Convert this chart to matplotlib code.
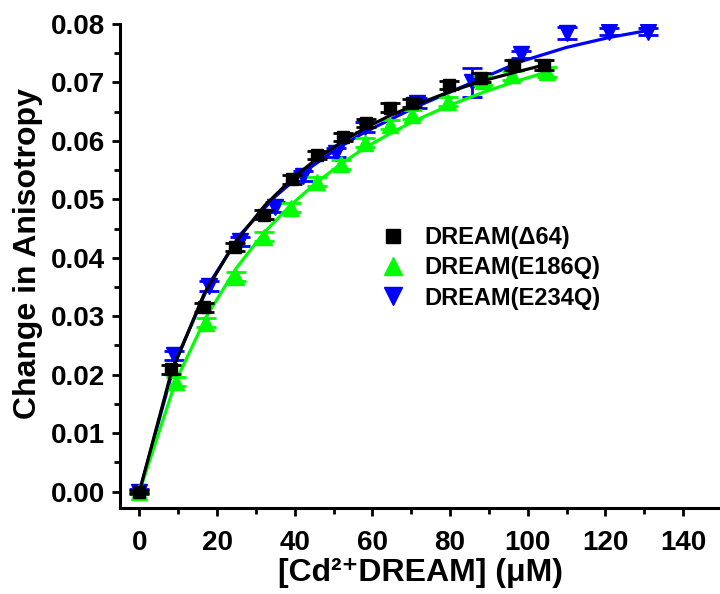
import numpy as np
import matplotlib
matplotlib.use('Agg')
import matplotlib.pyplot as plt
from matplotlib.ticker import MultipleLocator
from matplotlib.lines import Line2D

plt.rcParams['font.family'] = ['Liberation Sans', 'DejaVu Sans']
plt.rcParams['font.weight'] = 'bold'

# DREAM(delta64) - black squares
x_d64 = [0, 8.2, 16.7, 24.5, 32.2, 39.4, 45.8, 52.3, 58.4, 64.4, 70.1, 79.8, 88.0, 96.5, 104.3]
y_d64 = [0, 0.0209, 0.0315, 0.0419, 0.0474, 0.0534, 0.0576, 0.0606, 0.0631,
         0.0657, 0.0665, 0.0696, 0.0708, 0.0730, 0.0730]
e_d64 = [0.0003, 0.0007, 0.0007, 0.0007, 0.0007, 0.0007, 0.0007, 0.0007, 0.0007,
         0.0007, 0.0007, 0.0007, 0.0008, 0.0008, 0.0008]
f_d64 = [0, 0.0204, 0.0339, 0.0425, 0.0489, 0.0536, 0.0570, 0.0599, 0.0623,
         0.0643, 0.0659, 0.0684, 0.0702, 0.0717, 0.0730]

# DREAM(E186Q) - green triangles
x_e186 = [0, 9.3, 17.2, 24.9, 32.2, 39.1, 45.8, 52.0, 58.0, 64.4, 70.1, 79.5, 88.5, 96.0, 105.0]
y_e186 = [0, 0.0188, 0.0289, 0.0368, 0.0436, 0.0486, 0.0530, 0.0560, 0.0597,
          0.0628, 0.0645, 0.0667, 0.0703, 0.0712, 0.0718]
e_e186 = [0.0003, 0.0008, 0.0008, 0.0008, 0.0008, 0.0008, 0.0008, 0.0008, 0.0008,
          0.0008, 0.0008, 0.0008, 0.0008, 0.0008, 0.0008]
f_e186 = [0, 0.0188, 0.0299, 0.0382, 0.0444, 0.0491, 0.0530, 0.0561, 0.0588,
          0.0612, 0.0632, 0.0660, 0.0683, 0.0700, 0.0718]

# DREAM(E234Q) - blue inverted triangles
x_e234 = [0, 9.0, 18.0, 26.0, 35.0, 42.0, 50.7, 58.0, 71.5, 85.7, 98.3, 110.0, 121.0, 131.0]
y_e234 = [0, 0.0233, 0.0352, 0.0428, 0.0487, 0.0540, 0.0580, 0.0624, 0.0665,
          0.0700, 0.0748, 0.0785, 0.0787, 0.0787]
e_e234 = [0.0004, 0.0008, 0.0008, 0.0008, 0.0008, 0.0008, 0.0008, 0.0008, 0.0008,
          0.0025, 0.0006, 0.0010, 0.0006, 0.0006]
f_e234 = [0, 0.0218, 0.0356, 0.0440, 0.0505, 0.0545, 0.0586, 0.0615, 0.0659,
          0.0700, 0.0736, 0.0760, 0.0777, 0.0789]

labels = ['DREAM(\u039464)', 'DREAM(E186Q)', 'DREAM(E234Q)']

fig = plt.figure(figsize=(7.2, 5.94), dpi=100)
ax = fig.add_axes([0.1667, 0.1448, 0.8333, 0.8148])

lw = 2.3
# blue
ax.plot(x_e234, f_e234, color='#0000ff', lw=lw, zorder=2)
ax.errorbar(x_e234, y_e234, yerr=e_e234, fmt='v', color='#0000ff', ms=12,
            capsize=7, capthick=2, elinewidth=2, zorder=3)
# green
ax.plot(x_e186, f_e186, color='#00ff00', lw=lw, zorder=4)
ax.errorbar(x_e186, y_e186, yerr=e_e186, fmt='^', color='#00ff00', ms=12,
            capsize=7, capthick=2, elinewidth=2, zorder=5)
# black
ax.plot(x_d64, f_d64, color='black', lw=lw, zorder=6)
ax.errorbar(x_d64, y_d64, yerr=e_d64, fmt='s', color='black', ms=9,
            capsize=7, capthick=2, elinewidth=2, zorder=7)

ax.set_xlim(-5, 149.5)
ax.set_ylim(-0.0028, 0.08)
ax.xaxis.set_major_locator(MultipleLocator(20))
ax.xaxis.set_minor_locator(MultipleLocator(10))
ax.yaxis.set_major_locator(MultipleLocator(0.01))
ax.yaxis.set_minor_locator(MultipleLocator(0.005))
ax.yaxis.set_major_formatter(plt.FormatStrFormatter('%.2f'))

for s in ['top', 'right']:
    ax.spines[s].set_visible(False)
for s in ['left', 'bottom']:
    ax.spines[s].set_linewidth(2.2)
ax.tick_params(which='major', direction='out', length=6, width=2, labelsize=20)
ax.tick_params(which='minor', direction='out', length=4, width=2)
ax.tick_params(axis='y', pad=5)
ax.tick_params(axis='x', pad=10)

ax.set_xlabel('[Cd\u00b2\u207aDREAM] (\u03bcM)', fontsize=23, fontweight='bold', labelpad=1)
ax.set_ylabel('Change in Anisotropy', fontsize=23, fontweight='bold')
ax.yaxis.set_label_coords(-0.128, 0.525)

handles = [Line2D([], [], marker='s', color='black', ls='none', ms=10),
           Line2D([], [], marker='^', color='#00ff00', ls='none', ms=13),
           Line2D([], [], marker='v', color='#0000ff', ls='none', ms=13)]
ax.legend(handles, labels, loc='center left', bbox_to_anchor=(0.42, 0.496),
          frameon=False, handlelength=1.0, handletextpad=0.8, labelspacing=0.3,
          borderaxespad=0, borderpad=0.4, prop={'weight': 'bold', 'size': 17})

fig.savefig('out.png', dpi=100)
